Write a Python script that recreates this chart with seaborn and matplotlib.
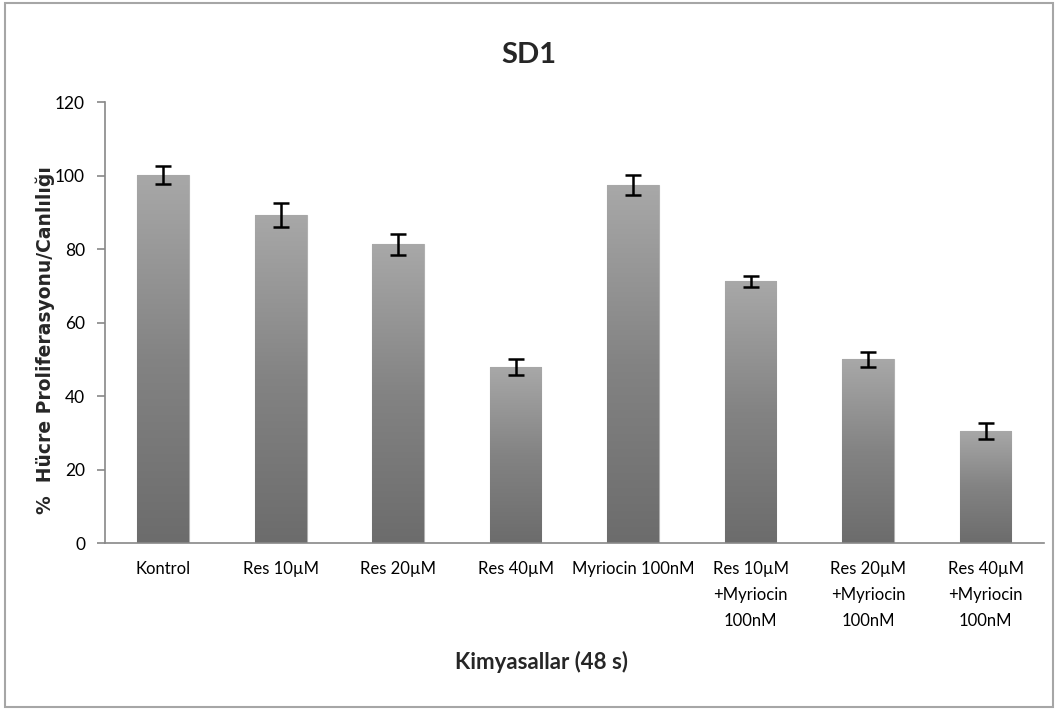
import numpy as np
import pandas as pd
import matplotlib
matplotlib.use('Agg')
import matplotlib.pyplot as plt
import seaborn as sns
from matplotlib.colors import LinearSegmentedColormap
from matplotlib.patches import Rectangle

# veriler
categories = ['Kontrol', 'Res 10µM', 'Res 20µM', 'Res 40µM', 'Myriocin 100nM',
              'Res 10µM\n+Myriocin\n100nM', 'Res 20µM\n+Myriocin\n100nM',
              'Res 40µM\n+Myriocin\n100nM']
values = [100.2, 89.3, 81.3, 47.8, 97.4, 71.2, 50.0, 30.5]
errors = [2.5, 3.2, 2.8, 2.2, 2.8, 1.5, 2.1, 2.1]
y_ticks = [0, 20, 40, 60, 80, 100, 120]

df = pd.DataFrame({'kategori': categories, 'deger': values})

sns.set_style('white')
plt.rcParams['font.family'] = ['Lato', 'DejaVu Sans']

axis_gray = '#888888'

fig = plt.figure(figsize=(10.58, 7.09), dpi=100)
ax = fig.add_axes([0.0988, 0.2341, 0.9870 - 0.0988, 0.8561 - 0.2341])

sns.barplot(data=df, x='kategori', y='deger', color='#8c8c8c', width=0.44,
            edgecolor='#b0b0b0', linewidth=0.8, ax=ax)

# Excel tarzi gri gradyan
cmap = LinearSegmentedColormap.from_list('gri', ['#6c6c6c', '#838383', '#a8a8a8'])
grad = np.linspace(0, 1, 256).reshape(-1, 1)
for p in list(ax.patches):
    x0, y0 = p.get_x(), p.get_y()
    w, h = p.get_width(), p.get_height()
    im = ax.imshow(grad, extent=[x0, x0 + w, y0, y0 + h], origin='lower',
                   aspect='auto', cmap=cmap, zorder=p.get_zorder() + 0.1)
    im.set_clip_path(p)

ax.errorbar(x=np.arange(len(values)), y=values, yerr=errors, fmt='none',
            ecolor='black', elinewidth=1.8, capsize=6, capthick=1.8, zorder=5)

ax.set_xlim(-0.5, len(categories) - 0.5)
ax.set_ylim(0, 120)
ax.set_yticks(y_ticks)
ax.set_yticklabels([str(t) for t in y_ticks], fontsize=12.5, color='black')

# kategori sinirlarinda tick
ax.set_xticks(np.arange(len(categories)))
ax.set_xticklabels(categories, fontsize=12, linespacing=1.75, va='top',
                   color='black')
ax.set_xticks(np.arange(len(categories) + 1) - 0.5, minor=True)
ax.tick_params(axis='x', which='major', length=0, pad=13)
ax.tick_params(axis='x', which='minor', length=7, width=1.2, color=axis_gray)
ax.tick_params(axis='y', which='major', length=6, width=1.2, color=axis_gray,
               direction='out', pad=8, left=True)

sns.despine(ax=ax)
for s in ['left', 'bottom']:
    ax.spines[s].set_color(axis_gray)
    ax.spines[s].set_linewidth(1.2)

ax.set_xlabel('')
ax.set_ylabel('')
fig.text(0.5, 0.922, 'SD1', ha='center', va='center', fontsize=21,
         fontweight='bold')
fig.text(0.512, 0.066, 'Kimyasallar (48 s)', ha='center', va='center',
         fontsize=16, fontweight='bold')
fig.text(0.043, 0.52, '%  Hücre Proliferasyonu/Canlılığı', rotation=90,
         ha='center', va='center', fontsize=13.5, fontweight='bold',
         family=['DejaVu Sans'])

fig.patches.append(Rectangle((0.005, 0.003), 0.99, 0.993,
                             transform=fig.transFigure, fill=False,
                             edgecolor='#a6a6a6', linewidth=1.5))

fig.savefig('out.png', dpi=100)
